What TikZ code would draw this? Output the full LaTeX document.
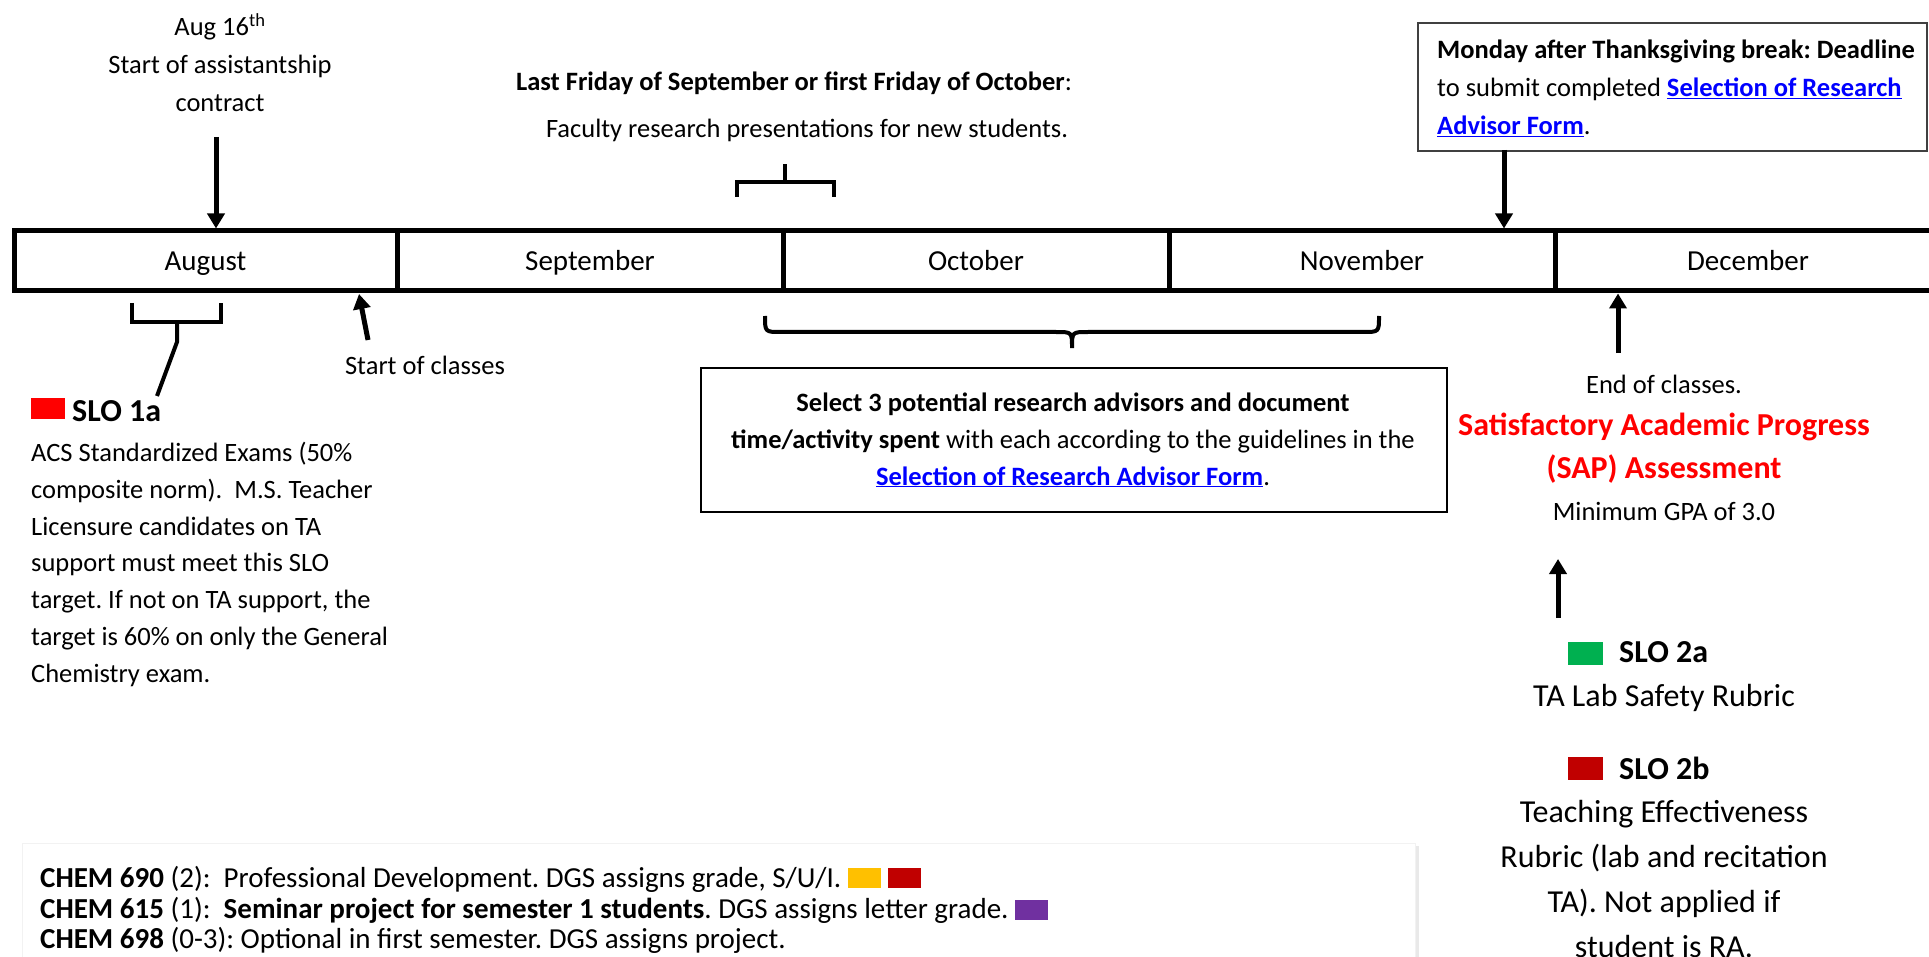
\documentclass[tikz,border=0pt]{standalone}
\usepackage{fontspec}
\setmainfont{Carlito}
\usetikzlibrary{arrows.meta,shadows}
\definecolor{linkblue}{HTML}{0000FF}
\definecolor{sloRed}{HTML}{FF0000}
\definecolor{darkRed}{HTML}{C00000}
\definecolor{sloGreen}{HTML}{00B050}
\definecolor{goldY}{HTML}{FFC000}
\definecolor{purp}{HTML}{7030A0}
\newcommand{\lnk}[1]{{\color{linkblue}\bfseries\underline{#1}}}
\newcommand{\swatchbox}[1]{{\color{#1}\rule[-1pt]{33pt}{20pt}}}
\frenchspacing
\begin{document}
\frenchspacing
\begin{tikzpicture}[x=1pt,y=-1pt,
  every node/.style={inner sep=0pt},
  cell/.style={draw,line width=5pt,minimum height=60pt,text height=26pt,text depth=6pt,font=\fontsize{29}{35}\selectfont},
  arr/.style={line width=5pt,-{Triangle[length=15pt,width=17pt]}},
  brk/.style={line width=4pt},
  swatch/.style={minimum width=35pt,minimum height=23pt},
  boxline/.style={line width=2pt},
  norm/.style={font=\fontsize{26.5}{38}\selectfont},
  head/.style={font=\fontsize{32}{40}\selectfont\bfseries}]

\useasboundingbox (0,0) rectangle (1929,957);
\fill[white] (0,0) rectangle (1929,957);

% timeline
\node[cell,minimum width=383pt] (aug) at (205.5,261) {August};
\node[cell,minimum width=386pt] (sep) at (590,261) {September};
\node[cell,minimum width=386pt] (oct) at (976,261) {October};
\node[cell,minimum width=386pt] (nov) at (1362,261) {November};
\node[cell,minimum width=386pt] (dec) at (1748,261) {December};

% Aug 16
\node[norm,align=center,anchor=north] (aug16) at (220,9) {\strut Aug 16\textsuperscript{th}\\Start of assistantship\\contract};
\coordinate (aug16s) at (216,137);
\draw[arr] (aug16s) -- (aug16s |- aug.north);

% Last Friday
\node[norm,anchor=base] (lastfri) at (794,91) {\textbf{Last Friday of September or first Friday of October}:};
\node[norm,anchor=base] (faculty) at (807,138) {Faculty research presentations for new students.};
\coordinate (tbl) at (737,197);
\coordinate (tbr) at (834,197);
\coordinate (tbs) at (785,164);
\draw[brk] (tbl) -- (tbl |- 0,182) -- (tbr |- 0,182) -- (tbr);
\draw[brk] (tbs |- 0,182) -- (tbs);

% Thanksgiving box
\node[draw=black!75,boxline,minimum width=509pt,minimum height=128pt,anchor=north west] (tbox) at (1417,22) {};
\node[norm,align=left,anchor=north west] (thanks) at (1437,32) {\strut\textbf{Monday after Thanksgiving break: Deadline}\\to submit completed \lnk{Selection of Research}\\\lnk{Advisor Form}.};
\coordinate (thA) at (1504,150);
\draw[arr] (thA) -- (thA |- nov.north);

% August bracket
\coordinate (abl) at (132,303);
\coordinate (abr) at (221,303);
\coordinate (abe) at (157,396);
\draw[brk] (abl) -- (132,322) -- (221,322) -- (abr);
\draw[brk] (177,322) -- (177,342) -- (abe);

% Start of classes
\node[norm,anchor=base] (soc) at (425,374) {Start of classes};
\coordinate (socA) at (368,340);
\coordinate (socB) at (359,294);
\draw[arr] (socA) -- (socB);

% SLO 1a
\node[fill=sloRed,minimum width=34pt,minimum height=21pt,anchor=north west] (sq1a) at (31,398) {};
\node[head,anchor=base west] (slo1a) at (72,421) {SLO 1a};
\node[align=left,anchor=north west,font=\fontsize{26.5}{36.9}\selectfont] (slo1atext) at (31,435.2) {\strut ACS Standardized Exams (50\%\\composite norm).~ M.S. Teacher\\Licensure candidates on TA\\support must meet this SLO\\target. If not on TA support, the\\target is 60\% on only the General\\Chemistry exam.};

% brace
\coordinate (brl) at (765,316);
\coordinate (brr) at (1379,316);
\coordinate (brt) at (1072,348);
\draw[brk] (brl) .. controls (765,332) .. (781,332) -- (1056,332) .. controls (1072,332) .. (brt) .. controls (1072,332) .. (1088,332) -- (1363,332) .. controls (1379,332) .. (brr);

% Select box
\node[draw,boxline,minimum width=746pt,minimum height=144pt,anchor=north west] (selbox) at (700,367) {};
\node[align=center,anchor=north,font=\fontsize{26.5}{37}\selectfont] (seltext) at (1073,385) {\strut\textbf{Select 3 potential research advisors and document}\\\textbf{time/activity spent} with each according to the guidelines in the\\\lnk{Selection of Research Advisor Form}.};

% End of classes / SAP
\coordinate (eocA) at (1618,353);
\draw[arr] (eocA) -- (eocA |- dec.south);
\node[norm,anchor=base] (eoc) at (1664,393) {End of classes.};
\node[align=center,anchor=north,font=\fontsize{32}{43}\selectfont\bfseries,text=sloRed] (sap) at (1664,405.5) {\strut Satisfactory Academic Progress\\(SAP) Assessment};
\node[norm,anchor=base] (gpa) at (1664,520) {Minimum GPA of 3.0};

\coordinate (a2s) at (1558,618);
\coordinate (a2t) at (1558,559);
\draw[arr] (a2s) -- (a2t);

% SLO 2a
\node[swatch,fill=sloGreen,anchor=north west] (sq2a) at (1568,642) {};
\node[head,anchor=base west] (slo2a) at (1619,662) {SLO 2a};
\node[anchor=base,font=\fontsize{32}{40}\selectfont] (slo2atext) at (1664,706) {TA Lab Safety Rubric};

% SLO 2b
\node[swatch,fill=darkRed,anchor=north west] (sq2b) at (1568,757) {};
\node[head,anchor=base west] (slo2b) at (1619,779) {SLO 2b};
\node[align=center,anchor=north,font=\fontsize{32}{45}\selectfont] (slo2btext) at (1664,791) {\strut Teaching Effectiveness\\Rubric (lab and recitation\\TA). Not applied if\\student is RA.};

% courses box
\path[fill=white,draw=black!5,drop shadow={shadow xshift=4pt,shadow yshift=-3pt,opacity=0.12,fill=black!70}] (22,843) rectangle (1415,990);
\node[align=left,anchor=north west,font=\fontsize{29}{30}\selectfont] (courses) at (40,866) {\strut\textbf{CHEM 690} (2):~ Professional Development. DGS assigns grade, S/U/I.\ \swatchbox{goldY}\hspace{7pt}\swatchbox{darkRed}\\\textbf{CHEM 615} (1):~ \textbf{Seminar project for semester 1 students}. DGS assigns letter grade.\ \swatchbox{purp}\\\textbf{CHEM 698} (0-3): Optional in first semester. DGS assigns project.};
\end{tikzpicture}
\end{document}
